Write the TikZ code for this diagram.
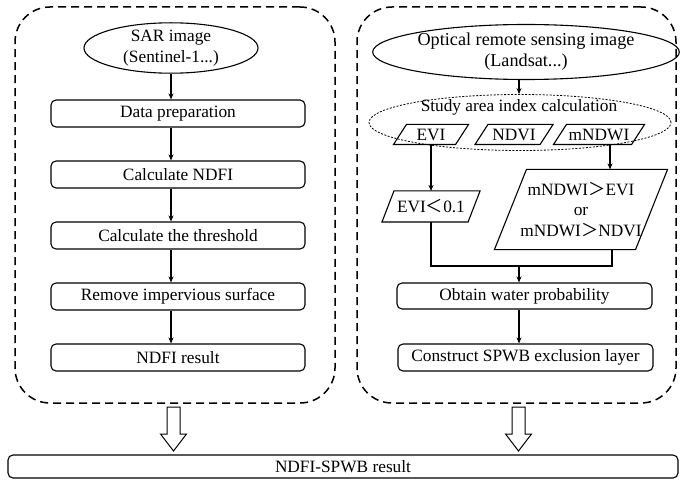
\documentclass[tikz,border=0pt]{standalone}
\usepackage{fontspec}
\setmainfont{Liberation Serif}
\newfontfamily\cjkfont{Noto Sans CJK SC}
\usetikzlibrary{shapes.geometric,arrows.meta,calc}
\newcommand{\myless}{{\cjkfont ＜}}
\newcommand{\mygreater}{{\cjkfont ＞}}
\newcommand{\drawpara}[2]{\draw ([xshift=-#2/2]#1.south west) -- ([xshift=#2/2]#1.north west) -- ([xshift=#2/2]#1.north east) -- ([xshift=-#2/2]#1.south east) -- cycle;}
\begin{document}
\begin{tikzpicture}[x=1pt,y=-1pt,
  font=\fontsize{17.3}{20.5}\selectfont,
  line width=1.1pt,
  procbox/.style={draw, rounded corners=5pt, minimum width=254pt, minimum height=27pt, inner sep=0pt},
  ell/.style={draw, ellipse, inner sep=0pt, align=center},
  paratext/.style={rectangle, inner sep=0pt, align=center},
  container/.style={draw, line width=1.5pt, dash pattern=on 8pt off 5pt, rounded corners=35pt, inner sep=0pt},
  arr/.style={-{Stealth[length=6pt,width=5pt]}, line width=1.2pt},
  hollow/.style={draw, line width=1pt, fill=white, line join=miter}
]
\useasboundingbox (0,0) rectangle (688,481);

% containers
\node[container, minimum width=320pt, minimum height=396pt] (lc) at (175,205) {};
\node[container, minimum width=319pt, minimum height=396pt] (rc) at (516.5,205) {};

% left column
\node[ell, minimum width=174pt, minimum height=49pt] (sar) at (171,48) {SAR image\\(Sentinel-1...)};
\node[procbox] (dp) at (178,113.5) {Data preparation};
\node[procbox] (cn) at (178,174.5) {Calculate NDFI};
\node[procbox] (ct) at (178,235.5) {Calculate the threshold};
\node[procbox] (ri) at (178,296.5) {Remove impervious surface};
\node[procbox] (nr) at (178,357.5) {NDFI result};

\draw[arr] (sar.south) -- (sar.south |- dp.north);
\draw[arr] (dp.south -| sar.south) -- (cn.north -| sar.south);
\draw[arr] (cn.south -| sar.south) -- (ct.north -| sar.south);
\draw[arr] (ct.south -| sar.south) -- (ri.north -| sar.south);
\draw[arr] (ri.south -| sar.south) -- (nr.north -| sar.south);

% right column
\node[ell, minimum width=277pt, minimum height=55pt, font=\fontsize{18.2}{21}\selectfont] (opt) at (526,52) {Optical remote sensing image\\(Landsat...)};
\node[draw, ellipse, dash pattern=on 2pt off 1.5pt, line width=0.8pt, minimum width=302pt, minimum height=56pt, inner sep=0pt] (study) at (520,122.5) {};
\node[inner sep=0pt] (studylbl) at (519,107) {Study area index calculation};
\node[paratext, minimum width=61pt, minimum height=19pt] (evi) at (431,134.5) {EVI};
\node[paratext, minimum width=64pt, minimum height=19pt] (ndvi) at (514,134.5) {NDVI};
\node[paratext, minimum width=77pt, minimum height=19pt] (mndwi) at (599,134.5) {mNDWI};
\drawpara{evi}{13}
\drawpara{ndvi}{13}
\drawpara{mndwi}{13}

\coordinate (ra) at (519,0);
\draw[arr] (opt.south -| ra) -- (study.north -| ra);

\node[paratext, minimum width=85pt, minimum height=30pt] (evilt) at (431,206.5) {EVI\myless0.1};
\node[paratext, minimum width=140pt, minimum height=79pt] (big) at (581,209.5) {mNDWI\mygreater EVI\\or\\mNDWI\mygreater NDVI};
\drawpara{evilt}{12}
\drawpara{big}{32}

\draw[arr] (evi.south) -- (evilt.north);
\draw[arr] ([xshift=11pt]mndwi.south) -- ([xshift=11pt]mndwi.south |- big.north);

\node[procbox, minimum width=255pt, minimum height=26pt] (owp) at (524.5,296) {Obtain water probability};
\node[procbox, minimum width=255pt] (cs) at (525.5,357.5) {Construct SPWB exclusion layer};

\coordinate (jr) at (612,266);
\coordinate (jm) at (519,266);
\draw[line width=1.2pt] (evilt.south) |- (jr) -- (jr |- big.south);
\draw[arr] (jm) -- (jm |- owp.north);
\draw[arr] (owp.south -| jm) -- (cs.north -| jm);

% bottom
\node[procbox, minimum width=670pt, minimum height=23pt] (res) at (343,466.5) {NDFI-SPWB result};

\coordinate (ha) at (173.5,407);
\coordinate (hb) at (518.5,407);
\foreach \c in {ha,hb}{
  \draw[hollow] (\c) ++(-6.5,0) -- ++(0,27) -- ++(-6.5,0) -- ++(13,17) -- ++(13,-17) -- ++(-6.5,0) -- ++(0,-27) -- cycle;
}
\end{tikzpicture}
\end{document}
